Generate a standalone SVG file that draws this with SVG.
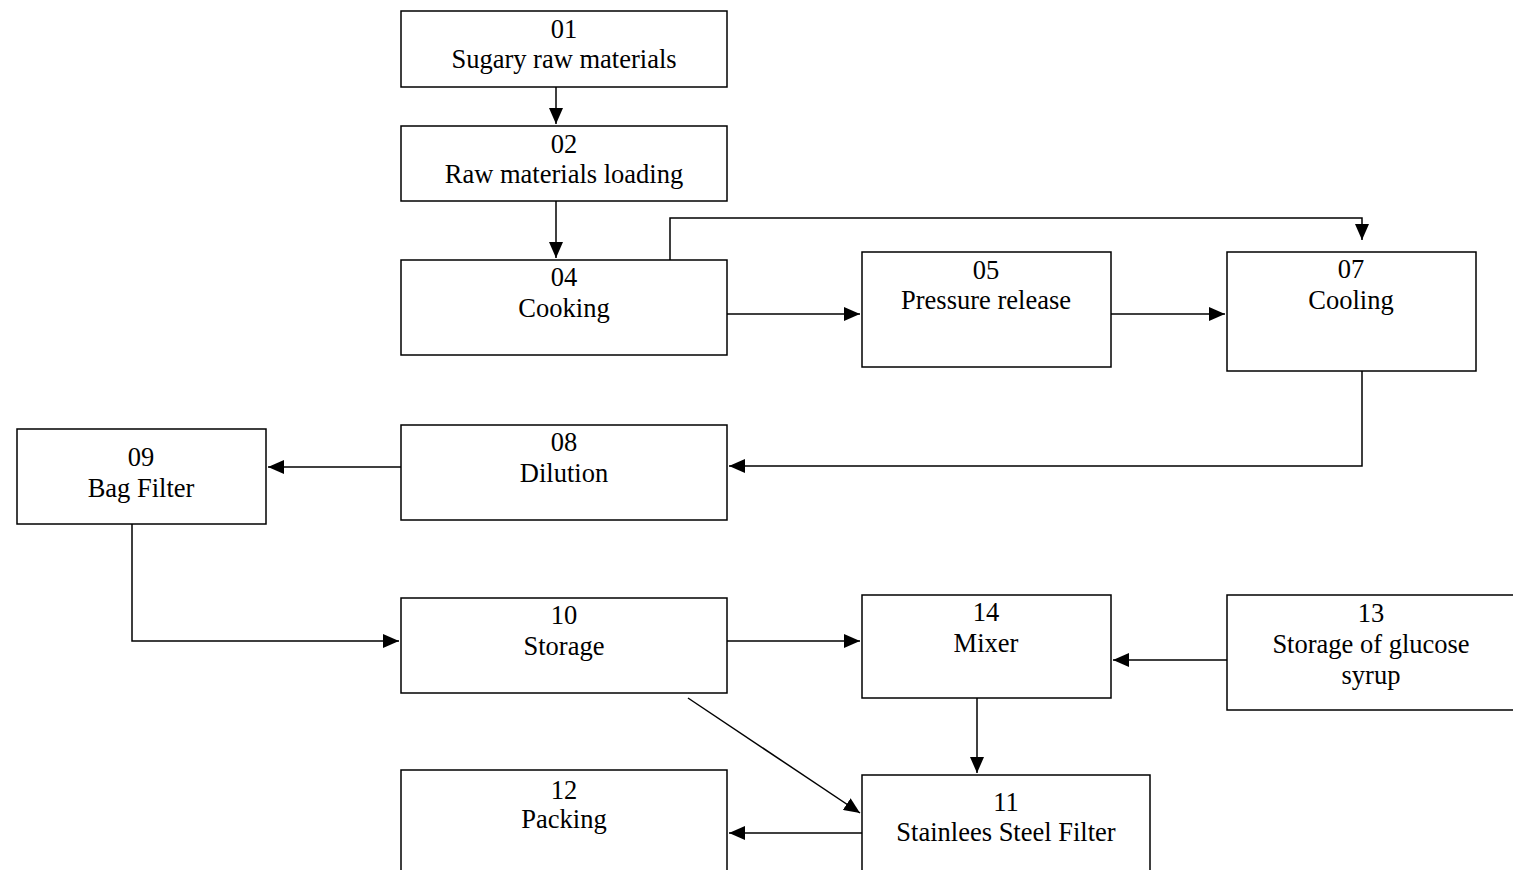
<svg xmlns="http://www.w3.org/2000/svg" width="1513" height="870" viewBox="0 0 1513 870">
<style>
.box{fill:#fff;stroke:#000;stroke-width:1.5}
.t{font-family:"Liberation Serif","Times New Roman",serif;font-size:26.5px;fill:#000;text-anchor:middle}
.c{fill:none;stroke:#000;stroke-width:1.5}
</style>
<defs>
<marker id="ah" markerUnits="userSpaceOnUse" markerWidth="16" markerHeight="14" viewBox="0 0 16 14" refX="16" refY="7" orient="auto">
<path d="M0,0 L16,7 L0,14 Z" fill="#000"/>
</marker>
</defs>
<rect width="1513" height="870" fill="#fff"/>
<g id="connectors">
<path class="c" d="M556,87 V124" marker-end="url(#ah)"/>
<path class="c" d="M556,201 V258" marker-end="url(#ah)"/>
<path class="c" d="M670,260 V218 H1362 V240" marker-end="url(#ah)"/>
<path class="c" d="M727,314 H860" marker-end="url(#ah)"/>
<path class="c" d="M1111,314 H1225" marker-end="url(#ah)"/>
<path class="c" d="M1362,371 V466 H729" marker-end="url(#ah)"/>
<path class="c" d="M401,467 H268" marker-end="url(#ah)"/>
<path class="c" d="M132,524 V641 H399" marker-end="url(#ah)"/>
<path class="c" d="M727,641 H860" marker-end="url(#ah)"/>
<path class="c" d="M1227,660 H1113" marker-end="url(#ah)"/>
<path class="c" d="M977,698 V773" marker-end="url(#ah)"/>
<path class="c" d="M688,698 L860,813" marker-end="url(#ah)"/>
<path class="c" d="M862,833 H729" marker-end="url(#ah)"/>
</g>
<g id="n01"><rect class="box" x="401" y="11" width="326" height="76"/><text class="t" x="564" y="38">01</text><text class="t" x="564" y="68">Sugary raw materials</text></g>
<g id="n02"><rect class="box" x="401" y="126" width="326" height="75"/><text class="t" x="564" y="153">02</text><text class="t" x="564" y="183">Raw materials loading</text></g>
<g id="n04"><rect class="box" x="401" y="260" width="326" height="95"/><text class="t" x="564" y="286">04</text><text class="t" x="564" y="317">Cooking</text></g>
<g id="n05"><rect class="box" x="862" y="252" width="249" height="115"/><text class="t" x="986" y="279">05</text><text class="t" x="986" y="309">Pressure release</text></g>
<g id="n07"><rect class="box" x="1227" y="252" width="249" height="119"/><text class="t" x="1351" y="278">07</text><text class="t" x="1351" y="309">Cooling</text></g>
<g id="n08"><rect class="box" x="401" y="425" width="326" height="95"/><text class="t" x="564" y="451">08</text><text class="t" x="564" y="482">Dilution</text></g>
<g id="n09"><rect class="box" x="17" y="429" width="249" height="95"/><text class="t" x="141" y="466">09</text><text class="t" x="141" y="497">Bag Filter</text></g>
<g id="n10"><rect class="box" x="401" y="598" width="326" height="95"/><text class="t" x="564" y="624">10</text><text class="t" x="564" y="655">Storage</text></g>
<g id="n14"><rect class="box" x="862" y="595" width="249" height="103"/><text class="t" x="986" y="621">14</text><text class="t" x="986" y="652">Mixer</text></g>
<g id="n13"><rect class="box" x="1227" y="595" width="300" height="115"/><text class="t" x="1371" y="622">13</text><text class="t" x="1371" y="653">Storage of glucose</text><text class="t" x="1371" y="684">syrup</text></g>
<g id="n12"><rect class="box" x="401" y="770" width="326" height="120"/><text class="t" x="564" y="799">12</text><text class="t" x="564" y="828">Packing</text></g>
<g id="n11"><rect class="box" x="862" y="775" width="288" height="115"/><text class="t" x="1006" y="811">11</text><text class="t" x="1006" y="841">Stainlees Steel Filter</text></g>
</svg>
